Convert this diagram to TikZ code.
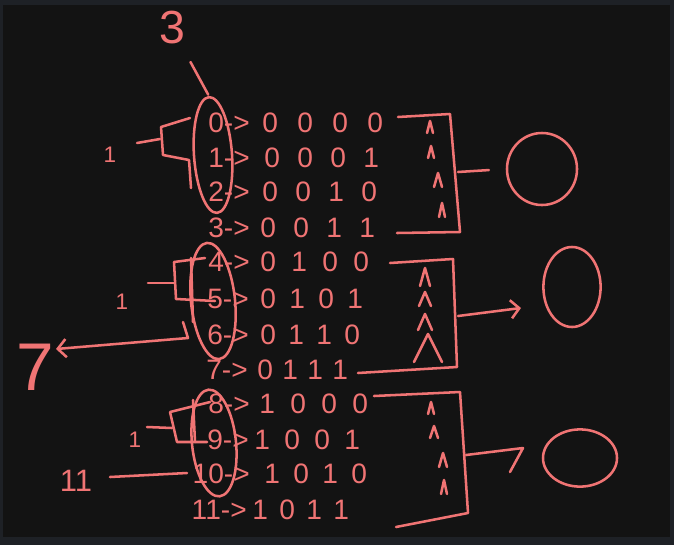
\documentclass[tikz,border=0pt]{standalone}
\usepackage{fontspec}
\setmainfont{Liberation Sans}
\usetikzlibrary{shapes.geometric,arrows.meta}

\definecolor{ink}{HTML}{F07474}
\definecolor{board}{HTML}{131313}
\definecolor{frame}{HTML}{1E2126}

% four bits, one per cell of width #1
\newcommand{\bits}[5]{\makebox[#1]{#2}\makebox[#1]{#3}\makebox[#1]{#4}\makebox[#1]{#5}}
% a hand drawn caret: centre, half width, half height
\newcommand{\caret}[4]{\draw[pen] (#1,#2) ++(-#3,#4) -- ++(#3,{-2*#4}) -- ++(#3,{2*#4});}

\tikzset{
  pen/.style={draw=ink, line width=1.8pt, line cap=round, line join=round},
  digits/.style={text=ink, inner sep=0pt, font=\fontsize{20}{24}\selectfont},
  small/.style={text=ink, inner sep=0pt, font=\fontsize{16}{18}\selectfont},
  oval/.style={draw=ink, line width=1.8pt, shape=ellipse, inner sep=0pt},
  ring/.style={draw=ink, line width=1.8pt, shape=ellipse, inner sep=0pt},
}

\begin{document}
\begin{tikzpicture}[x=0.025cm, y=-0.025cm, >={Straight Barb[length=6pt,width=13pt]}]
\fill[frame] (0,0) rectangle (674,545);
\fill[board] (3,5) rectangle (670,537);
\useasboundingbox (0,0) rectangle (674,545);

% index column
\node[digits, anchor=east] (n0) at (250,123) {0->};
\node[digits, anchor=east] (n1) at (250,158) {1->};
\node[digits, anchor=east] (n2) at (250,192) {2->};
\node[digits, anchor=east] (n3) at (250,228) {3->};
\node[digits, anchor=east] (n4) at (250,262) {4->};
\node[digits, anchor=east] (n5) at (249,299) {5->};
\node[digits, anchor=east] (n6) at (249,335) {6->};
\node[digits, anchor=east] (n7) at (248,370) {7->};
\node[digits, anchor=east] (n8) at (250,404) {8->};
\node[digits, anchor=east] (n9) at (249,440) {9->};
\node[digits, anchor=east] (n10) at (250,474) {10->};
\node[digits, anchor=east] (n11) at (247,510) {11->};

% bit patterns
\node[digits, anchor=west] (b0) at (252.5,123) {\bits{0.875cm}{0}{0}{0}{0}};
\node[digits, anchor=west] (b1) at (255.5,158) {\bits{0.825cm}{0}{0}{0}{1}};
\node[digits, anchor=west] (b2) at (253.5,192) {\bits{0.825cm}{0}{0}{1}{0}};
\node[digits, anchor=west] (b3) at (251.5,228) {\bits{0.825cm}{0}{0}{1}{1}};
\node[digits, anchor=west] (b4) at (252.5,262) {\bits{0.775cm}{0}{1}{0}{0}};
\node[digits, anchor=west] (b5) at (253.5,299) {\bits{0.725cm}{0}{1}{0}{1}};
\node[digits, anchor=west] (b6) at (254,335) {\bits{0.7cm}{0}{1}{1}{0}};
\node[digits, anchor=west] (b7) at (252.5,370) {\bits{0.625cm}{0}{1}{1}{1}};
\node[digits, anchor=west] (b8) at (251.5,404) {\bits{0.775cm}{1}{0}{0}{0}};
\node[digits, anchor=west] (b9) at (247,440) {\bits{0.75cm}{1}{0}{0}{1}};
\node[digits, anchor=west] (b10) at (257.5,474) {\bits{0.725cm}{1}{0}{1}{0}};
\node[digits, anchor=west] (b11) at (246.5,510) {\bits{0.675cm}{1}{0}{1}{1}};

% groups of indices
\node[oval, minimum width=0.95cm, minimum height=2.9cm, rotate=4] (grpA) at (213,155) {};
\node[oval, minimum width=1.1cm, minimum height=2.92cm, rotate=6] (grpB) at (213,301) {};
\node[oval, minimum width=1.1cm, minimum height=2.68cm, rotate=6] (grpC) at (214,443) {};

% labels on the left
\node[text=ink, inner sep=0pt, font=\fontsize{33}{36}\selectfont] (lab3) at (172,28) {3};
\node[text=ink, inner sep=0pt, font=\fontsize{48}{50}\selectfont] (lab7) at (35,367) {7};
\node[text=ink, inner sep=0pt, font=\fontsize{22}{24}\selectfont] (lab11) at (76,481) {11};
\node[small] (oneA) at (110,155) {1};
\node[small] (oneB) at (122,302) {1};
\node[small] (oneC) at (135,440) {1};

\draw[pen, shorten <=14pt, shorten >=1pt] (lab3) -- (grpA.north);

% brackets
\draw[pen] (137,143) -- (160,139);
\draw[pen] (190,118) -- (161,127) -- (163,155) -- (189,160) -- (191,188);
\draw[pen] (148,283) -- (174,283);
\draw[pen] (205,258) -- (174,262) -- (176,299) -- (215,301);
\draw[pen] (191,258) -- (193,322);
\draw[pen] (147,427) -- (172,428);
\draw[pen] (210,402) -- (170,412) -- (177,442) -- (207,442);
\draw[pen] (193,400) -- (195,442);

% pointers to the labels
\coordinate (hook7) at (183,322);
\coordinate (tip7) at (56,349);
\draw[pen, ->] (hook7) -- ++(5,16) -- (tip7);
\coordinate (end11) at (187,473);
\draw[pen] (end11) -- (110,477);

% right hand brackets
\draw[pen] (398,117) -- (450,114) -- (460,232) -- (397,233);
\draw[pen] (390,263) -- (453,259) -- (457,367) -- (358,373);
\draw[pen] (374,396) -- (460,392) -- (468,513) -- (396,527);

\caret{430}{127}{3}{6}
\caret{431}{152}{3}{6}
\caret{438}{180}{4}{7}
\caret{442}{210}{3}{7}
\caret{425}{277}{5}{9}
\caret{425}{299}{6}{7}
\caret{425}{322}{7}{8}
\caret{428}{348}{14}{14}
\caret{431}{408}{3}{6}
\caret{434}{432}{4}{6}
\caret{443}{460}{4}{7}
\caret{444}{487}{3}{7}

% results
\node[ring, minimum width=1.75cm, minimum height=1.8cm] (ringA) at (542,169) {};
\node[ring, minimum width=1.43cm, minimum height=2cm] (ringB) at (572,287) {};
\node[ring, minimum width=1.85cm, minimum height=1.43cm] (ringC) at (580,458) {};

\coordinate (boxA) at (458,172);
\coordinate (boxB) at (458,316);
\coordinate (boxC) at (466,455);
\draw[pen, shorten >=12pt] (boxA) -- (ringA.west);
\coordinate (tipB) at (521,308);
\draw[pen, ->] (boxB) -- (tipB);
\coordinate (tipC) at (523,448);
\draw[pen] (boxC) -- (tipC) -- ++(-13,24);
\end{tikzpicture}
\end{document}
